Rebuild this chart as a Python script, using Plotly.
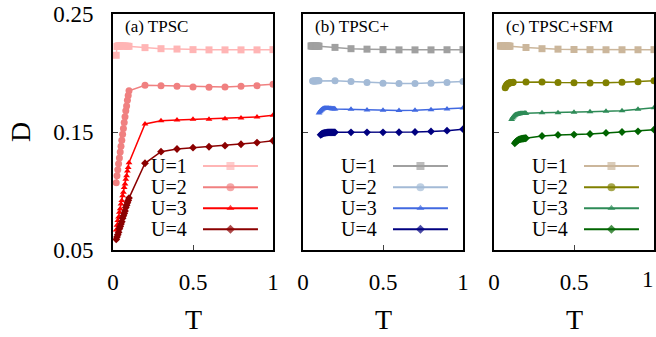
import plotly.graph_objects as go

# ---------------- data ----------------
T_HIGH = [0.2, 0.3, 0.4, 0.5, 0.6, 0.7, 0.8, 0.9, 1.0]

# (a) TPSC
a1_T = [0.02, 0.025, 0.03, 0.035, 0.04, 0.045, 0.05, 0.06, 0.07, 0.08, 0.09, 0.1] + T_HIGH
a1_D = [0.2150, 0.2225, 0.2228, 0.2229, 0.2230, 0.2230, 0.2230, 0.2229, 0.2229, 0.2228, 0.2227, 0.2226,
        0.2215, 0.2206, 0.2203, 0.2198, 0.2196, 0.2196, 0.2196, 0.2196, 0.2198]
a2_T = [0.02, 0.025, 0.03, 0.035, 0.04, 0.045, 0.05, 0.055, 0.06, 0.065, 0.07, 0.075, 0.08, 0.085, 0.09, 0.095, 0.1] + T_HIGH
a2_D = [0.107, 0.113, 0.118, 0.123, 0.128, 0.133, 0.138, 0.143, 0.148, 0.153, 0.158, 0.163, 0.168, 0.172, 0.177, 0.181, 0.185,
        0.1896, 0.1893, 0.1887, 0.1881, 0.1879, 0.1881, 0.1887, 0.1893, 0.1904]
a3_T = [0.02, 0.025, 0.03, 0.035, 0.04, 0.045, 0.05, 0.055, 0.06, 0.065, 0.07, 0.075, 0.08, 0.085, 0.09, 0.095, 0.1] + T_HIGH
a3_D = [0.067, 0.071, 0.075, 0.078, 0.082, 0.085, 0.089, 0.092, 0.096, 0.099, 0.103, 0.106, 0.110, 0.113, 0.117, 0.120, 0.124,
        0.1568, 0.1596, 0.1602, 0.1607, 0.1609, 0.1613, 0.1619, 0.1627, 0.1641]
a4_T = [0.02, 0.025, 0.03, 0.035, 0.04, 0.045, 0.05, 0.055, 0.06, 0.065, 0.07, 0.075, 0.08, 0.085, 0.09, 0.095, 0.1] + T_HIGH
a4_D = [0.059, 0.061, 0.063, 0.065, 0.068, 0.070, 0.072, 0.074, 0.077, 0.079, 0.081, 0.083, 0.086, 0.088, 0.090, 0.092, 0.094,
        0.1235, 0.1333, 0.1356, 0.1367, 0.1375, 0.1384, 0.1396, 0.1410, 0.1426]

# (b) TPSC+
b1_T = [0.05, 0.055, 0.06, 0.065, 0.07, 0.075, 0.08, 0.085, 0.09, 0.095, 0.1] + T_HIGH
b1_D = [0.2229, 0.2229, 0.2229, 0.2229, 0.2229, 0.2229, 0.2229, 0.2228, 0.2228, 0.2228, 0.2227,
        0.2217, 0.2206, 0.2202, 0.2198, 0.2196, 0.2196, 0.2196, 0.2197, 0.2198]
b2_T = [0.06, 0.065, 0.07, 0.075, 0.08, 0.085, 0.09, 0.095, 0.1] + T_HIGH
b2_D = [0.1932, 0.1932, 0.1933, 0.1933, 0.1933, 0.1934, 0.1934, 0.1934, 0.1934,
        0.1935, 0.1928, 0.1920, 0.1913, 0.1910, 0.1910, 0.1914, 0.1920, 0.1927]
b3_T = [0.1, 0.105, 0.11, 0.115, 0.12, 0.125, 0.13, 0.135, 0.14, 0.145, 0.15, 0.155, 0.16, 0.165, 0.17, 0.175, 0.18, 0.185, 0.19, 0.195] + T_HIGH
b3_D = [0.1662, 0.1672, 0.1680, 0.1687, 0.1692, 0.1696, 0.1699, 0.1701, 0.1702, 0.1702, 0.1702, 0.1702, 0.1701, 0.1700, 0.1700, 0.1699, 0.1698, 0.1697, 0.1697, 0.1696,
        0.1695, 0.1692, 0.1687, 0.1684, 0.1683, 0.1685, 0.1689, 0.1695, 0.1703]
b4_T = [0.11, 0.115, 0.12, 0.125, 0.13, 0.135, 0.14, 0.145, 0.15, 0.155, 0.16, 0.165, 0.17, 0.175, 0.18, 0.185, 0.19, 0.195] + T_HIGH
b4_D = [0.1476, 0.1481, 0.1485, 0.1488, 0.1490, 0.1492, 0.1493, 0.1494, 0.1495, 0.1496, 0.1496, 0.1497, 0.1497, 0.1497, 0.1497, 0.1497, 0.1497, 0.1497,
        0.1497, 0.1497, 0.1497, 0.1497, 0.1498, 0.1500, 0.1505, 0.1511, 0.1524]

# (c) TPSC+SFM
c1_T = [0.04, 0.045, 0.05, 0.055, 0.06, 0.065, 0.07, 0.075, 0.08, 0.085, 0.09, 0.095, 0.1] + T_HIGH
c1_D = [0.2229, 0.2229, 0.2229, 0.2229, 0.2229, 0.2229, 0.2229, 0.2229, 0.2228, 0.2228, 0.2228, 0.2227, 0.2227,
        0.2216, 0.2206, 0.2202, 0.2199, 0.2198, 0.2197, 0.2197, 0.2197, 0.2198]
c2_T = [0.07, 0.075, 0.08, 0.085, 0.09, 0.095, 0.1, 0.105, 0.11, 0.115, 0.12] + T_HIGH
c2_D = [0.1875, 0.1890, 0.1900, 0.1907, 0.1912, 0.1915, 0.1917, 0.1918, 0.1919, 0.1920, 0.1921,
        0.1924, 0.1924, 0.1919, 0.1917, 0.1916, 0.1918, 0.1921, 0.1926, 0.1934]
c3_T = [0.11, 0.115, 0.12, 0.125, 0.13, 0.135, 0.14, 0.145, 0.15, 0.155, 0.16, 0.165, 0.17, 0.175, 0.18, 0.185, 0.19, 0.195] + T_HIGH
c3_D = [0.1605, 0.1618, 0.1628, 0.1636, 0.1642, 0.1646, 0.1649, 0.1651, 0.1653, 0.1654, 0.1655, 0.1656, 0.1656, 0.1657, 0.1657, 0.1657, 0.1658, 0.1658,
        0.1658, 0.1663, 0.1664, 0.1667, 0.1671, 0.1675, 0.1680, 0.1692, 0.1706]
c4_T = [0.13, 0.135, 0.14, 0.145, 0.15, 0.155, 0.16, 0.165, 0.17, 0.175, 0.18, 0.185, 0.19, 0.195] + T_HIGH
c4_D = [0.1404, 0.1414, 0.1421, 0.1427, 0.1431, 0.1435, 0.1438, 0.1440, 0.1442, 0.1443, 0.1444, 0.1445, 0.1446, 0.1447,
        0.1448, 0.1466, 0.1475, 0.1478, 0.1483, 0.1492, 0.1500, 0.1506, 0.1520]

U_LABELS = ["U=1", "U=2", "U=3", "U=4"]
PANEL_TITLES = ["(a) TPSC", "(b) TPSC+", "(c) TPSC+SFM"]
X_TICKS = [0, 0.5, 1]
X_TICKTEXT = ["0", "0.5", "1"]
Y_TICKS = [0.05, 0.15, 0.25]
Y_TICKTEXT = ["0.05", "0.15", "0.25"]

panels = [
    [(a1_T, a1_D), (a2_T, a2_D), (a3_T, a3_D), (a4_T, a4_D)],
    [(b1_T, b1_D), (b2_T, b2_D), (b3_T, b3_D), (b4_T, b4_D)],
    [(c1_T, c1_D), (c2_T, c2_D), (c3_T, c3_D), (c4_T, c4_D)],
]
colors = [
    ["#ffb5b5", "#f08080", "#ff0000", "#8b0000"],
    ["#a0a0a0", "#a3bad6", "#4169e1", "#000080"],
    ["#cbb69b", "#808000", "#2e8b57", "#006400"],
]
symbols = ["square", "circle", "triangle-up", "diamond"]
msizes = [7, 7, 6, 6]

# ---------------- layout geometry ----------------
W, H = 656, 337
px_left = [113, 303, 494]
px_w = 160
top_px, bot_px = 14, 250
ydom = [(H - bot_px) / H, (H - top_px) / H]
FONT = "Liberation Serif, Times New Roman, Times, serif"
XLAB_STANDOFF = 10

fig = go.Figure()
layout = dict(
    width=W, height=H, margin=dict(l=0, r=0, t=0, b=0, pad=0, autoexpand=False),
    paper_bgcolor="white", plot_bgcolor="white", showlegend=False,
    font=dict(family=FONT, color="black", size=22),
)
annotations = []

key_rows = [0.356, 0.266, 0.177, 0.0877]
key_x = [0.5625, 0.734, 0.906]

for p in range(3):
    n = p + 1
    sfx = "" if n == 1 else str(n)
    ov = p + 4
    xd = [px_left[p] / W, (px_left[p] + px_w) / W]
    layout["xaxis" + sfx] = dict(
        domain=xd, range=[0, 1], anchor="y" + sfx,
        tickvals=X_TICKS, ticktext=X_TICKTEXT, ticks="inside", ticklen=5, tickwidth=1,
        showline=True, mirror=True, linewidth=2, linecolor="black",
        showgrid=False, zeroline=False, tickfont=dict(size=23, family=FONT),
        ticklabelstandoff=XLAB_STANDOFF, automargin=False,
    )
    layout["yaxis" + sfx] = dict(
        domain=ydom, range=[0.05, 0.25], anchor="x" + sfx,
        tickvals=Y_TICKS, ticktext=Y_TICKTEXT if p == 0 else ["", "", ""],
        ticks="inside", ticklen=5, tickwidth=1,
        showline=True, mirror=True, linewidth=2, linecolor="black",
        showgrid=False, zeroline=False, tickfont=dict(size=23, family=FONT),
        ticklabelstandoff=13, showticklabels=(p == 0), automargin=False,
    )
    layout["xaxis%d" % ov] = dict(overlaying="x" + sfx, anchor="y%d" % ov, range=[0, 1], visible=False)
    layout["yaxis%d" % ov] = dict(overlaying="y" + sfx, anchor="x%d" % ov, range=[0, 1], visible=False)

    for i, (tx, dy) in enumerate(panels[p]):
        fig.add_trace(go.Scatter(
            x=tx, y=dy, mode="lines+markers", xaxis="x" + sfx, yaxis="y" + sfx,
            line=dict(color=colors[p][i], width=1.5),
            marker=dict(symbol=symbols[i], size=msizes[i], color=colors[p][i], line=dict(width=0)),
            name=U_LABELS[i], cliponaxis=True,
        ))
        fig.add_trace(go.Scatter(
            x=key_x, y=[key_rows[i]] * 3, mode="lines+markers",
            xaxis="x%d" % ov, yaxis="y%d" % ov,
            line=dict(color=colors[p][i], width=2),
            marker=dict(symbol=symbols[i], size=[0, msizes[i] + 1, 0], color=colors[p][i], line=dict(width=0)),
            hoverinfo="skip",
        ))
        annotations.append(dict(
            text=U_LABELS[i], xref="x%s domain" % sfx, yref="y%s domain" % sfx,
            x=0.478, y=key_rows[i], xanchor="right", yanchor="middle",
            showarrow=False, font=dict(size=20, family=FONT),
        ))
    annotations.append(dict(
        text=PANEL_TITLES[p], xref="x%s domain" % sfx, yref="y%s domain" % sfx,
        x=0.0625, y=(bot_px - 27) / (bot_px - top_px), xanchor="left", yanchor="middle",
        showarrow=False, font=dict(size=17, family=FONT),
    ))
    annotations.append(dict(
        text="T", xref="x%s domain" % sfx, yref="paper",
        x=0.5, y=(H - 319) / H, xanchor="center", yanchor="middle",
        showarrow=False, font=dict(size=28, family=FONT),
    ))

# the last "1" tick label of panel (c) sits at the right edge of the figure
annotations.append(dict(
    text=X_TICKTEXT[-1], xref="paper", yref="paper", x=1.0, y=(H - 279) / H,
    xanchor="right", yanchor="middle", showarrow=False, font=dict(size=23, family=FONT),
))
annotations.append(dict(
    text="D", xref="paper", yref="paper", x=20 / W, y=(H - 132) / H,
    xanchor="center", yanchor="middle", textangle=-90,
    showarrow=False, font=dict(size=28, family=FONT),
))
layout["annotations"] = annotations
fig.update_layout(**layout)
fig.write_html("out.html")
